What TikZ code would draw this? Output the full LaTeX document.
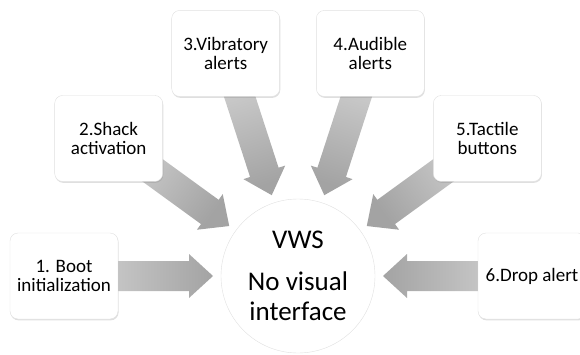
\documentclass[tikz,border=0pt]{standalone}
\usepackage{fontspec}
\setmainfont{Carlito}
\usetikzlibrary{
	calc				% points between nodes
	, shadows			% drop shadows under the boxes
	, backgrounds		% arrows behind the boxes
}

\begin{document}
\begin{tikzpicture}[x=1pt, y=1pt,
			stage/.style={
				rectangle,
				rounded corners=8pt,
				draw=black!12,
				fill=white,
				minimum width=108pt,
				minimum height=86pt,
				align=center,
				font=\fontsize{19}{19.5}\selectfont,
				drop shadow={shadow xshift=0.6pt, shadow yshift=-1.4pt, opacity=0.25}
			},
			hub/.style={
				circle,
				draw=black!12,
				fill=white,
				minimum size=154pt,
				inner sep=0pt,
				align=center,
				font=\fontsize{27}{30}\selectfont
			},
			flow/.style={
				top color=black!16,
				bottom color=black!36,
				draw=none
			}]

			\useasboundingbox (0,0) rectangle (580,354);
			\clip (0,0) rectangle (580,354);

			\node [hub] (vws) at (298,78) {VWS\\[12pt]No visual\\interface};

			%%% Six stages on a half circle round the hub
			\foreach [count=\i] \txt in {1. Boot\\initialization, 2.Shack\\activation, 3.Vibratory\\alerts, 4.Audible\\alerts, 5.Tactile\\buttons, 6.Drop alert} {
				\node [stage] (stage\i) at ($(vws.center)+({180-36*(\i-1)}:234pt)$) {\txt};
			};

			%%% Block arrows from each stage into the hub
			\begin{scope}[on background layer]
				\foreach \i in {1,...,6} {
					\pgfmathsetmacro\sang{90-36*(\i-1)}
					\coordinate (tip\i) at ($(vws.center)!85pt!(stage\i.center)$);
					\coordinate (base\i) at ($(vws.center)!109pt!(stage\i.center)$);
					\shade [flow, shading angle=\sang]
						($(stage\i.center)!15pt!90:(vws.center)$)
						-- ($(base\i)!15pt!90:(vws.center)$)
						-- ($(base\i)!22pt!90:(vws.center)$)
						-- (tip\i)
						-- ($(base\i)!22pt!-90:(vws.center)$)
						-- ($(base\i)!15pt!-90:(vws.center)$)
						-- ($(stage\i.center)!15pt!-90:(vws.center)$)
						-- cycle;
				};
			\end{scope}

		\end{tikzpicture}
\end{document}
